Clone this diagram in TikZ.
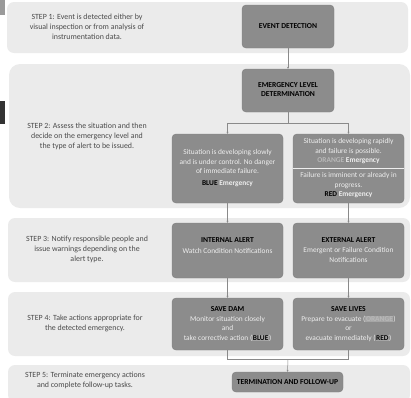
\documentclass[tikz,border=0pt]{standalone}
\usepackage{fontspec}
\setmainfont{Carlito}
\usetikzlibrary{arrows.meta}
\definecolor{bandc}{HTML}{EBEBEB}
\definecolor{boxc}{HTML}{8C8C8C}
\definecolor{boxd}{HTML}{7E7E7E}
\definecolor{stept}{HTML}{4A4A4A}
\definecolor{boxt}{HTML}{EEEEEE}
\definecolor{linec}{HTML}{8A8A8A}
\definecolor{orangec}{HTML}{B8B8B8}
\definecolor{hil}{HTML}{A6A6A6}
\definecolor{mark1}{HTML}{9A9A9A}
\definecolor{mark2}{HTML}{333333}
\newcommand{\hl}[1]{{\setlength{\fboxsep}{0.6pt}\colorbox{hil}{#1}}}
\newcommand{\ttl}{\color{black}\bfseries\fontsize{7.6}{8.5}\selectfont}
\tikzset{
  band/.style={fill=bandc, draw=none, rounded corners=7pt},
  gbox/.style={fill=boxc, draw=boxd, line width=0.4pt, rounded corners=4pt, inner sep=0pt},
  steptext/.style={text=stept, align=center, font=\fontsize{7.9}{10}\selectfont, inner sep=0pt},
  btext/.style={text=boxt, align=center, font=\fontsize{7.4}{9.5}\selectfont, inner sep=0pt},
  ttext/.style={text=black, align=center, font=\bfseries\fontsize{7.6}{8.2}\selectfont, inner sep=0pt},
  conn/.style={draw=linec, line width=0.5pt},
  arr/.style={conn, -{Stealth[length=2pt,width=2pt]}},
}
\begin{document}
\begin{tikzpicture}[x=1pt,y=-1pt]
\useasboundingbox (0,0) rectangle (411,397);
% edge marks
\fill[mark1] (0,0) rectangle (5,15);
\fill[mark2] (0,101) rectangle (5,124);
% bands
\fill[band] (7,2) rectangle (408,53);
\fill[band, rounded corners=11pt] (9,64) rectangle (410,208);
\fill[band] (8,218) rectangle (410,282);
\fill[band] (8,292) rectangle (410,356);
\fill[band] (8,365) rectangle (410,402);
% step texts
\node[steptext] (s1) at (87,27) {STEP 1: Event is detected either by\\visual inspection or from analysis of\\instrumentation data.};
\node[steptext] (s2) at (87,136) {STEP 2: Assess the situation and then\\decide on the emergency level and\\the type of alert to be issued.};
\node[steptext] (s3) at (87,249) {STEP 3: Notify responsible people and\\issue warnings depending on the\\alert type.};
\node[steptext] (s4) at (85,323.5) {STEP 4: Take actions appropriate for\\the detected emergency.};
\node[steptext] (s5) at (85,380.5) {STEP 5: Terminate emergency actions\\and complete follow-up tasks.};
% boxes
\node[gbox, minimum width=92pt, minimum height=43pt] (ed) at (288,26.5) {};
\node[ttext] (edt) at (ed.center) {EVENT DETECTION};
\node[gbox, minimum width=92pt, minimum height=43pt] (eld) at (288,90.5) {};
\node[ttext] (eldt) at (288,89.5) {EMERGENCY LEVEL\\DETERMINATION};
\node[gbox, minimum width=111pt, minimum height=69pt] (blue) at (227.5,168.5) {};
\node[btext] (bluet) at (227.5,168) {Situation is developing slowly\\and is under control. No danger\\of immediate failure.\\[2pt]{\color{black}\bfseries BLUE}\ {\bfseries Emergency}};
\node[gbox, minimum width=111pt, minimum height=69pt] (rbox) at (348.5,168.5) {};
\draw[draw=boxt, line width=0.5pt] (rbox.west |- 0,168) -- (rbox.east |- 0,168);
\node[btext] (rtop) at (348.5,151.5) {Situation is developing rapidly\\and failure is possible.\\{\color{orangec}\bfseries ORANGE}\ {\bfseries Emergency}};
\node[btext] (rbot) at (348.5,185.5) {Failure is imminent or already in\\progress.\\{\color{black}\bfseries RED}\ {\bfseries Emergency}};
\node[gbox, minimum width=111pt, minimum height=55pt] (ia) at (227.5,250.5) {};
\node[btext] (iat) at (227.5,245.5) {{\ttl INTERNAL ALERT}\\[1pt]Watch Condition Notifications};
\node[gbox, minimum width=111pt, minimum height=55pt] (ea) at (348.5,250.5) {};
\node[btext] (eat) at (348.5,250) {{\ttl EXTERNAL ALERT}\\[1pt]Emergent or Failure Condition\\Notifications};
\node[gbox, minimum width=111pt, minimum height=52pt] (sd) at (227.5,324) {};
\node[btext] (sdt) at (227.5,324) {{\ttl SAVE DAM}\\Monitor situation closely\\and\\take corrective action (\hl{\color{black}\bfseries BLUE})};
\node[gbox, minimum width=111pt, minimum height=52pt] (sl) at (348.5,324) {};
\node[btext] (slt) at (348.5,324) {{\ttl SAVE LIVES}\\Prepare to evacuate (\hl{\color{orangec}\bfseries ORANGE})\\or\\evacuate immediately (\hl{\color{black}\bfseries RED})};
\node[gbox, minimum width=111pt, minimum height=20pt] (term) at (287.5,382) {};
\node[ttext] (termt) at (term.center) {TERMINATION AND FOLLOW-UP};
% connectors
\coordinate (b1) at (288,123);
\coordinate (b2) at (288,359);
\draw[arr] (ed.south) -- (eld.north);
\draw[conn] (eld.south) -- (b1);
\draw[arr] (b1) -| (blue.north);
\draw[arr] (b1) -| (rbox.north);
\draw[arr] (blue.south) -- (ia.north);
\draw[arr] (rbox.south) -- (ea.north);
\draw[arr] (ia.south) -- (sd.north);
\draw[arr] (ea.south) -- (sl.north);
\draw[conn] (sd.south) |- (b2);
\draw[conn] (sl.south) |- (b2);
\draw[arr] (b2) -- (term.north);
\end{tikzpicture}
\end{document}
